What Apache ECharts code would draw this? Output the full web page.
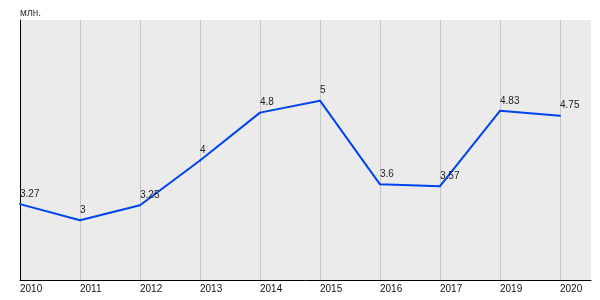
<!DOCTYPE html>
<html>
<head>
<meta charset="utf-8">
<script src="https://cdn.jsdelivr.net/npm/echarts@6/dist/echarts.min.js"></script>
<style>
  html, body { margin: 0; padding: 0; background: #ffffff; }
  #chart { width: 600px; height: 300px; }
</style>
</head>
<body>
<div id="chart"></div>
<script>
const categories = ['2010', '2011', '2012', '2013', '2014', '2015', '2016', '2017', '2019', '2020'];
const values = [3.27, 3, 3.25, 4, 4.8, 5, 3.6, 3.57, 4.83, 4.75];
const unitLabel = 'млн.';

const chart = echarts.init(document.getElementById('chart'), null, { renderer: 'canvas' });
const font = 'Liberation Sans, Arial, sans-serif';

chart.setOption({
  animation: false,
  title: {
    text: unitLabel,
    left: 15,
    top: 3,
    textStyle: { fontSize: 10, fontWeight: 'normal', color: '#333', fontFamily: font }
  },
  grid: {
    left: 20, right: 9, top: 20, bottom: 20,
    show: true, backgroundColor: '#ebebeb', borderWidth: 0
  },
  xAxis: {
    type: 'value',
    min: 0,
    max: 9.517,
    interval: 1,
    axisLine: { show: true, lineStyle: { color: '#000', width: 1 } },
    axisTick: { show: false },
    splitLine: { show: true, showMinLine: false, showMaxLine: false, lineStyle: { color: '#c8c8c8', width: 1 } },
    axisLabel: {
      show: true,
      showMaxLabel: false,
      align: 'left',
      margin: 4,
      fontSize: 10,
      color: '#111',
      fontFamily: font,
      formatter: function (v) { return Number.isInteger(v) && categories[v] ? categories[v] : ''; }
    }
  },
  yAxis: {
    type: 'value',
    min: 2,
    max: 6.35,
    axisLine: { show: true, lineStyle: { color: '#000', width: 1 } },
    axisTick: { show: false },
    axisLabel: { show: false },
    splitLine: { show: false }
  },
  series: [{
    type: 'line',
    data: values.map(function (v, i) { return [i, v]; }),
    symbol: 'circle',
    symbolSize: 2,
    showSymbol: true,
    itemStyle: { color: '#0044ee' },
    lineStyle: { color: '#0044ee', width: 2 },
    label: {
      show: true,
      position: 'top',
      distance: 4,
      align: 'left',
      verticalAlign: 'bottom',
      fontSize: 10,
      color: '#222',
      fontFamily: font,
      formatter: function (p) { return String(p.value[1]); }
    }
  }]
});
</script>
</body>
</html>
